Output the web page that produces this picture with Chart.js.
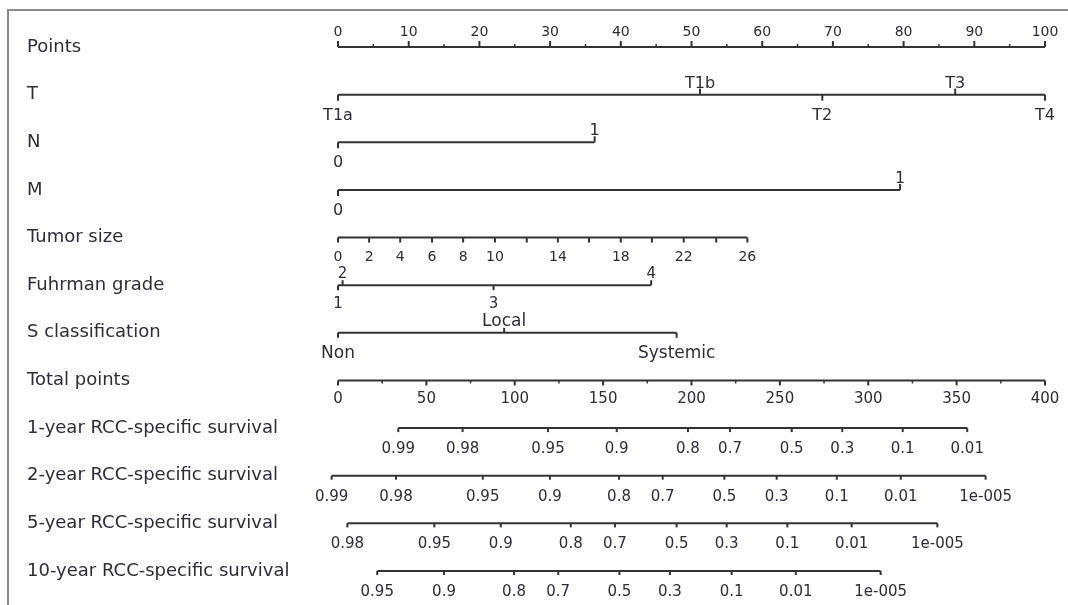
<!DOCTYPE html>
<html>
<head>
<meta charset="utf-8">
<script src="https://cdn.jsdelivr.net/npm/chart.js@4.4.1/dist/chart.umd.min.js"></script>
<style>
  html, body { margin: 0; padding: 0; background: #fff; }
  #wrap { width: 1068px; height: 605px; position: relative; }
</style>
</head>
<body>
<div id="wrap"><canvas id="nomogram"></canvas></div>
<script>
const rowNames = ['Points', 'T', 'N', 'M', 'Tumor size', 'Fuhrman grade', 'S classification',
  'Total points', '1-year RCC-specific survival', '2-year RCC-specific survival',
  '5-year RCC-specific survival', '10-year RCC-specific survival']

// points scale (0-100)
const pointsMajor = [0, 10, 20, 30, 40, 50, 60, 70, 80, 90, 100]
const pointsMinor = [5, 15, 25, 35, 45, 55, 65, 75, 85, 95]

const tLabels = ['T1a', 'T1b', 'T2', 'T3', 'T4']
const tPoints = [0, 51.2, 68.5, 87.3, 100]
const tSides = ['below', 'above', 'below', 'above', 'below']

const nLabels = ['0', '1']
const nPoints = [0, 36.3]
const nSides = ['below', 'above']

const mLabels = ['0', '1']
const mPoints = [0, 79.5]
const mSides = ['below', 'above']

const tumorLabels = ['0', '2', '4', '6', '8', '10', '', '14', '', '18', '', '22', '', '26']
const tumorPoints = [0, 4.4, 8.8, 13.3, 17.7, 22.2, 26.7, 31.1, 35.5, 40.0, 44.4, 48.9, 53.5, 57.9]

const gradeLabels = ['1', '2', '3', '4']
const gradePoints = [0, 0.65, 22.0, 44.3]
const gradeSides = ['below', 'above', 'below', 'above']

const sLabels = ['Non', 'Local', 'Systemic']
const sPoints = [0, 23.5, 47.9]
const sSides = ['below', 'above', 'below']

// total points scale (0-400)
const totalMajor = [0, 50, 100, 150, 200, 250, 300, 350, 400]
const totalMinor = [25, 75, 125, 175, 225, 275, 325, 375]

const surv1Labels = ['0.99', '0.98', '0.95', '0.9', '0.8', '0.7', '0.5', '0.3', '0.1', '0.01']
const surv1Points = [34.1, 70.5, 118.8, 157.7, 198.0, 221.8, 256.7, 285.3, 319.5, 356.0]

const surv2Labels = ['0.99', '0.98', '0.95', '0.9', '0.8', '0.7', '0.5', '0.3', '0.1', '0.01', '1e-005']
const surv2Points = [-3.6, 32.8, 81.9, 119.9, 159.0, 183.7, 218.6, 248.2, 282.2, 318.4, 366.4]

const surv5Labels = ['0.98', '0.95', '0.9', '0.8', '0.7', '0.5', '0.3', '0.1', '0.01', '1e-005']
const surv5Points = [5.3, 54.5, 92.1, 131.7, 156.7, 191.6, 219.9, 254.2, 290.6, 339.1]

const surv10Labels = ['0.95', '0.9', '0.8', '0.7', '0.5', '0.3', '0.1', '0.01', '1e-005']
const surv10Points = [22.2, 60.0, 99.6, 124.6, 159.2, 187.8, 222.7, 259.0, 307.0]

const textColor = '#2d2d3a'
const lineColor = '#333333'
const frameColor = '#8c8c8c'
const fontFamily = "'DejaVu Sans', Verdana, sans-serif"

const below = (arr) => arr.map(() => 'below')

// one entry per nomogram row
const rows = [
  { axis: 'x', values: pointsMajor, labels: pointsMajor.map(String), sides: pointsMajor.map(() => 'above'),
    minor: pointsMinor, tick: 6, minorTick: 3, labelUp: 11, size: 14 },
  { axis: 'x', values: tPoints, labels: tLabels, sides: tSides, tick: 6, size: 16 },
  { axis: 'x', values: nPoints, labels: nLabels, sides: nSides, tick: 6, size: 16 },
  { axis: 'x', values: mPoints, labels: mLabels, sides: mSides, tick: 6, size: 16 },
  { axis: 'x', values: tumorPoints, labels: tumorLabels, sides: below(tumorPoints), tick: 5, labelDown: 23, size: 14 },
  { axis: 'x', values: gradePoints, labels: gradeLabels, sides: gradeSides, tick: 5, labelDown: 23, size: 15 },
  { axis: 'x', values: sPoints, labels: sLabels, sides: sSides, tick: 5, size: 17 },
  { axis: 'x2', values: totalMajor, labels: totalMajor.map(String), sides: below(totalMajor),
    minor: totalMinor, tick: 5, minorTick: 3, labelDown: 23, size: 15 },
  { axis: 'x2', values: surv1Points, labels: surv1Labels, sides: below(surv1Points), tick: 4, size: 15 },
  { axis: 'x2', values: surv2Points, labels: surv2Labels, sides: below(surv2Points), tick: 4, size: 15 },
  { axis: 'x2', values: surv5Points, labels: surv5Labels, sides: below(surv5Points), tick: 4, size: 15 },
  { axis: 'x2', values: surv10Points, labels: surv10Labels, sides: below(surv10Points), tick: 4, size: 15 }
]

const datasets = rows.map((r, i) => ({
  label: rowNames[i],
  xAxisID: r.axis,
  data: [
    { x: Math.min(...r.values), y: rowNames[i] },
    { x: Math.max(...r.values), y: rowNames[i] }
  ],
  borderColor: lineColor,
  borderWidth: 2,
  pointRadius: 0,
  clip: false
}))

// frame on top and left
const framePlugin = {
  id: 'frame',
  beforeDraw(chart) {
    const ctx = chart.ctx
    ctx.save()
    ctx.strokeStyle = frameColor
    ctx.lineWidth = 2
    ctx.beginPath()
    ctx.moveTo(8, chart.height + 5)
    ctx.lineTo(8, 10)
    ctx.lineTo(chart.width + 5, 10)
    ctx.stroke()
    ctx.restore()
  }
}

// ticks and labels of every row
const ticksPlugin = {
  id: 'nomoTicks',
  afterDatasetsDraw(chart) {
    const ctx = chart.ctx
    const yScale = chart.scales.y
    ctx.save()
    ctx.strokeStyle = lineColor
    ctx.fillStyle = textColor
    ctx.textAlign = 'center'
    ctx.textBaseline = 'alphabetic'
    rows.forEach((r, i) => {
      const xs = chart.scales[r.axis]
      const y = yScale.getPixelForValue(i)
      ctx.font = r.size + 'px ' + fontFamily
      ;(r.minor || []).forEach(v => {
        const px = xs.getPixelForValue(v)
        const dir = r.sides[0] === 'above' ? -1 : 1
        ctx.lineWidth = 1.5
        ctx.beginPath()
        ctx.moveTo(px, y)
        ctx.lineTo(px, y + dir * r.minorTick)
        ctx.stroke()
      })
      r.values.forEach((v, k) => {
        const px = xs.getPixelForValue(v)
        const up = r.sides[k] === 'above'
        ctx.lineWidth = 2
        ctx.beginPath()
        ctx.moveTo(px, y)
        ctx.lineTo(px, y + (up ? -r.tick : r.tick))
        ctx.stroke()
        if (r.labels[k]) {
          const ly = up ? y - (r.labelUp || 7) : y + (r.labelDown || 25)
          ctx.fillText(r.labels[k], px, ly)
        }
      })
    })
    ctx.restore()
  }
}

new Chart(document.getElementById('nomogram'), {
  type: 'line',
  data: { labels: rowNames, datasets: datasets },
  options: {
    responsive: true,
    maintainAspectRatio: false,
    animation: false,
    events: [],
    layout: { padding: { left: 27, right: 23, top: 47, bottom: 34 } },
    plugins: { legend: { display: false }, tooltip: { enabled: false } },
    scales: {
      x: { type: 'linear', min: 0, max: 100, display: false },
      x2: { type: 'linear', min: 0, max: 400, display: false },
      y: {
        type: 'category',
        labels: rowNames,
        position: 'left',
        grid: { display: false },
        border: { display: false },
        ticks: {
          autoSkip: false,
          crossAlign: 'far',
          color: textColor,
          font: { family: fontFamily, size: 18 }
        },
        afterFit(scale) { scale.width = 311 }
      }
    }
  },
  plugins: [framePlugin, ticksPlugin]
})
</script>
</body>
</html>
